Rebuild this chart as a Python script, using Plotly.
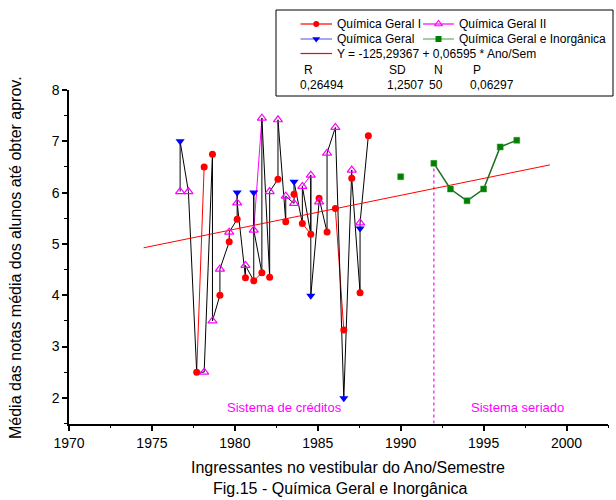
import plotly.graph_objects as go

# ---------------- data ----------------
qg1_x = [1977.7, 1978.15, 1978.65, 1979.1, 1979.66, 1980.14, 1980.64, 1981.14, 1981.63, 1982.1,
         1982.6, 1983.07, 1983.57, 1984.07, 1984.58, 1985.08, 1985.56, 1986.06, 1986.57, 1987.05,
         1987.55, 1988.05]
qg1_y = [2.50, 6.50, 6.75, 4.00, 5.04, 5.48, 4.34, 4.28, 4.44, 4.35,
         6.26, 5.43, 5.97, 5.40, 5.19, 5.89, 5.23, 5.69, 3.32, 6.28,
         4.05, 7.11]

qg2_x = [1976.7, 1977.2, 1978.15, 1978.65, 1979.1, 1979.66, 1980.14, 1980.64, 1981.14, 1981.63,
         1982.1, 1982.6, 1983.07, 1983.57, 1984.07, 1984.58, 1985.08, 1985.56, 1986.06, 1987.05,
         1987.55]
qg2_y = [6.02, 6.02, 2.50, 3.50, 4.51, 5.23, 5.80, 4.58, 5.27, 7.45,
         6.02, 7.42, 5.93, 5.79, 6.12, 6.34, 5.82, 6.77, 7.27, 6.44,
         5.41]

qg_x = [1976.7, 1980.14, 1981.14, 1983.57, 1984.58, 1986.57, 1987.55]
qg_y = [7.00, 6.00, 6.00, 6.21, 3.99, 1.99, 5.30]

qgi_x = [1990, 1992, 1993, 1994, 1995, 1996, 1997]
qgi_y = [6.31, 6.57, 6.07, 5.84, 6.07, 6.89, 7.02]

fit_intercept = -125.29367
fit_slope = 0.06595
fit_x = [1974.5, 1999.0]

# order in which the black line visits the points (series key, index)
black_path = [('M', 0), ('B', 0), ('M', 1), ('R', 0), ('M', 2), ('R', 2), ('M', 3), ('R', 3), ('M', 4),
              ('R', 4), ('M', 5), ('R', 5), ('B', 1), ('M', 6), ('R', 6), ('M', 7), ('R', 7), ('B', 2),
              ('M', 8), ('R', 8), ('M', 9), ('R', 9), ('M', 10), ('R', 10), ('M', 11), ('R', 11),
              ('M', 12), ('M', 13), ('R', 12), ('B', 3), ('R', 13), ('M', 14), ('R', 14), ('M', 15),
              ('B', 4), ('M', 16), ('R', 15), ('R', 16), ('M', 17), ('M', 18), ('B', 5), ('M', 19),
              ('R', 19), ('R', 20), ('B', 6), ('M', 20), ('R', 21)]
# segments drawn in the series' own colour
colored_segments = {'R': [(0, 1), (7, 8), (13, 14), (17, 18)],
                    'M': [(8, 9), (14, 15)]}

x_ticks = [1970, 1975, 1980, 1985, 1990, 1995, 2000]
y_ticks = [2, 3, 4, 5, 6, 7, 8]

# ---------------- figure ----------------
FONT = "Liberation Sans, Arial, sans-serif"
W, H = 616, 500
PL, PR, PT, PB = 69, 608, 90, 423.5          # plot area in pixels
XR = [1970, 2002.5]
YR = [1.5, 8.0]

RED, MAG, BLUE, GREEN, GLINE = "#FF0000", "#FF00FF", "#0000FF", "#008000", "#1E6E1E"

pts = {'R': (qg1_x, qg1_y), 'M': (qg2_x, qg2_y), 'B': (qg_x, qg_y)}
col = {'R': RED, 'M': MAG, 'B': BLUE}

fig = go.Figure()

# coloured series segments
for key, segs in colored_segments.items():
    xs, ys = [], []
    for i, j in segs:
        xs += [pts[key][0][i], pts[key][0][j], None]
        ys += [pts[key][1][i], pts[key][1][j], None]
    fig.add_trace(go.Scatter(x=xs, y=ys, mode="lines", line=dict(color=col[key], width=1),
                             hoverinfo="skip", showlegend=False))

# black connecting line
bx = [pts[k][0][i] for k, i in black_path]
by = [pts[k][1][i] for k, i in black_path]
fig.add_trace(go.Scatter(x=bx, y=by, mode="lines", line=dict(color="black", width=1),
                         showlegend=False))

# green line (gap before 1992)
fig.add_trace(go.Scatter(x=qgi_x[1:], y=qgi_y[1:], mode="lines", line=dict(color=GLINE, width=1.5),
                         showlegend=False))

# regression line
fit_y = [fit_intercept + fit_slope * v for v in fit_x]
fig.add_trace(go.Scatter(x=fit_x, y=fit_y, mode="lines", line=dict(color=RED, width=1),
                         showlegend=False))

# markers
fig.add_trace(go.Scatter(x=qg1_x, y=qg1_y, mode="markers", name="Química Geral I",
                         marker=dict(symbol="circle", size=7, color=RED, line=dict(width=0)),
                         showlegend=False))
fig.add_trace(go.Scatter(x=qg2_x, y=qg2_y, mode="markers", name="Química Geral II",
                         marker=dict(symbol="triangle-up-open", size=8, color=MAG, line=dict(width=1.2, color=MAG)),
                         showlegend=False))
fig.add_trace(go.Scatter(x=qg_x, y=qg_y, mode="markers", name="Química Geral",
                         marker=dict(symbol="triangle-down", size=8, color=BLUE, line=dict(width=0)),
                         showlegend=False))
fig.add_trace(go.Scatter(x=qgi_x, y=qgi_y, mode="markers", name="Química Geral e Inorgânica",
                         marker=dict(symbol="square", size=6, color=GREEN, line=dict(width=0.5, color="#3C9A3C")),
                         showlegend=False))

# ---------------- legend drawn on a pixel overlay ----------------
legend_rows = [
    (300.5, 332, 24, RED, dict(symbol="circle", size=6, color=RED), "Química Geral I"),
    (423, 454, 24, MAG, dict(symbol="triangle-up-open", size=7, color=MAG, line=dict(width=1.2, color=MAG)), "Química Geral II"),
    (300.5, 332, 39, BLUE, dict(symbol="triangle-down", size=7, color=BLUE), "Química Geral"),
    (423, 454, 39, GREEN, dict(symbol="square", size=6, color=GREEN), "Química Geral e Inorgânica"),
    (300.5, 332, 53.5, RED, None, "Y = -125,29367 + 0,06595 * Ano/Sem"),
]
for x0, x1, yy, c, mk, label in legend_rows:
    lc = "#6A6AF0" if c == BLUE else ("#5FB35F" if c == GREEN else c)
    fig.add_trace(go.Scatter(x=[x0, x1], y=[yy, yy], mode="lines", line=dict(color=lc, width=1.2),
                             xaxis="x2", yaxis="y2", hoverinfo="skip", showlegend=False))
    if mk is not None:
        fig.add_trace(go.Scatter(x=[(x0 + x1) / 2], y=[yy], mode="markers", marker=mk,
                                 xaxis="x2", yaxis="y2", hoverinfo="skip", showlegend=False))
    fig.add_annotation(x=x1 + 3, y=yy, xref="x2", yref="y2", text=label, showarrow=False,
                       xanchor="left", yanchor="middle", font=dict(family=FONT, size=12, color="black"))

stat_heads = [(302, "R"), (387, "SD"), (432, "N"), (471, "P")]
stat_vals = [(298, "0,26494"), (385, "1,2507"), (427, "50"), (468, "0,06297")]
for xx, t in stat_heads:
    fig.add_annotation(x=xx, y=70, xref="x2", yref="y2", text=t, showarrow=False,
                       xanchor="left", yanchor="middle", font=dict(family=FONT, size=12, color="black"))
for xx, t in stat_vals:
    fig.add_annotation(x=xx, y=85, xref="x2", yref="y2", text=t, showarrow=False,
                       xanchor="left", yanchor="middle", font=dict(family=FONT, size=12, color="black"))

fig.add_shape(type="rect", x0=276, x1=613, y0=10, y1=96, xref="x2", yref="y2",
              line=dict(color="black", width=1), fillcolor="rgba(0,0,0,0)", layer="below")

# vertical dotted separator at 1992
fig.add_shape(type="line", x0=qgi_x[1], x1=qgi_x[1], y0=YR[0], y1=qgi_y[1], xref="x", yref="y",
              line=dict(color=MAG, width=1.2, dash="dot"), layer="below")

# text annotations
fig.add_annotation(x=284, y=407, xref="x2", yref="y2", text="Sistema de créditos", showarrow=False,
                   font=dict(family=FONT, size=13, color=MAG))
fig.add_annotation(x=517, y=407, xref="x2", yref="y2", text="Sistema seriado", showarrow=False,
                   font=dict(family=FONT, size=13, color=MAG))
fig.add_annotation(x=348, y=467, xref="x2", yref="y2", text="Ingressantes no vestibular do Ano/Semestre",
                   showarrow=False, font=dict(family=FONT, size=16, color="black"))
fig.add_annotation(x=340, y=488, xref="x2", yref="y2", text="Fig.15 - Química Geral e Inorgânica",
                   showarrow=False, font=dict(family=FONT, size=16, color="black"))
fig.add_annotation(x=15, y=258, xref="x2", yref="y2", text="Média das notas média dos alunos até obter aprov.",
                   showarrow=False, textangle=-90, font=dict(family=FONT, size=16, color="black"))

fig.update_layout(
    width=W, height=H,
    margin=dict(l=0, r=0, t=0, b=0, autoexpand=False),
    paper_bgcolor="white", plot_bgcolor="rgba(0,0,0,0)",
    showlegend=False,
    xaxis=dict(domain=[PL / W, PR / W], range=XR, showgrid=False, zeroline=False, automargin=False,
               showline=True, linecolor="black", linewidth=1.5, ticks="outside", ticklen=6,
               tickwidth=1.5, tickcolor="black", tickvals=x_ticks,
               minor=dict(dtick=2.5, ticks="outside", ticklen=3, tickwidth=1.2, tickcolor="black"),
               tickfont=dict(family=FONT, size=14, color="black"), anchor="y"),
    yaxis=dict(domain=[(H - PB) / H, (H - PT) / H], range=YR, showgrid=False, zeroline=False, automargin=False,
               showline=True, linecolor="black", linewidth=1.5, ticks="outside", ticklen=5,
               tickwidth=1.5, tickcolor="black", tickvals=y_ticks,
               minor=dict(dtick=0.5, ticks="outside", ticklen=3, tickwidth=1.2, tickcolor="black"),
               tickfont=dict(family=FONT, size=14, color="black"), anchor="x"),
    xaxis2=dict(domain=[0, 1], range=[0, W], visible=False, fixedrange=True, anchor="y2", automargin=False),
    yaxis2=dict(domain=[0, 1], range=[H, 0], visible=False, fixedrange=True, anchor="x2", automargin=False),
)

fig.write_html("out.html")
